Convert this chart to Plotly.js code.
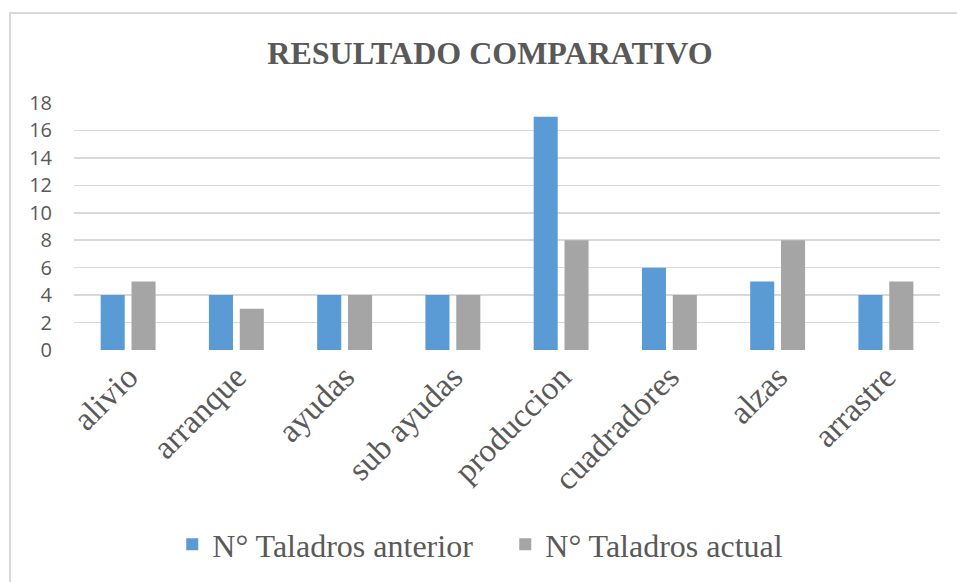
<!DOCTYPE html>
<html>
<head>
<meta charset="utf-8">
<script src="https://cdn.plot.ly/plotly-3.0.1.min.js"></script>
<style>
html,body{margin:0;padding:0;background:#fff;}
#wrap{position:relative;width:957px;height:582px;overflow:hidden;}
#frame{position:absolute;left:9px;top:12px;width:960px;height:600px;border-left:2px solid #d9d9d9;border-top:2px solid #d9d9d9;box-sizing:border-box;pointer-events:none;}
#chart{position:absolute;left:0;top:0;width:957px;height:582px;}
</style>
</head>
<body>
<div id="wrap">
<div id="chart"></div>
<div id="frame"></div>
</div>
<script>
var categories = ["alivio","arranque","ayudas","sub ayudas","produccion","cuadradores","alzas","arrastre"];
var anterior = [4,4,4,4,17,6,5,4];
var actual = [5,3,4,4,8,4,8,5];
var seriesNames = ["N° Taladros anterior","N° Taladros actual"];
var yTicks = [0,2,4,6,8,10,12,14,16,18];

var serif = "Liberation Serif";
var sans = "Open Sans";

var traces = [
  {type:"bar", name:seriesNames[0], x:categories, y:anterior, marker:{color:"#5B9BD5"}, hoverinfo:"none"},
  {type:"bar", name:seriesNames[1], x:categories, y:actual, marker:{color:"#A5A5A5"}, hoverinfo:"none"}
];

var layout = {
  width:957, height:582,
  paper_bgcolor:"#fff", plot_bgcolor:"#fff",
  font:{family:serif, color:"#595959"},
  margin:{l:74, r:17, t:103, b:231},
  barmode:"group", bargap:0.43, bargroupgap:0.22,
  title:{text:"<b>RESULTADO COMPARATIVO</b>", font:{family:serif, size:32, color:"#595959"}, x:0.512, xanchor:"center", y:0.91, yanchor:"middle"},
  xaxis:{type:"category", tickangle:-45, tickfont:{family:serif, size:33, color:"#595959"}, showgrid:false, zeroline:false, showline:false, ticks:""},
  yaxis:{range:[0,18], tickvals:yTicks, ticktext:yTicks.map(String), tickfont:{family:sans, size:20, color:"#595959"}, gridcolor:"#d9d9d9", gridwidth:1.5, zeroline:false, showline:false, ticks:"", ticklabelstandoff:21},
  showlegend:true,
  legend:{orientation:"h", x:0.498, xanchor:"center", y:-0.78, yanchor:"middle", font:{family:serif, size:32, color:"#595959"}, itemwidth:30, entrywidth:288, traceorder:"normal"}
};

Plotly.newPlot("chart", traces, layout, {displayModeBar:false, staticPlot:true});
</script>
</body>
</html>
